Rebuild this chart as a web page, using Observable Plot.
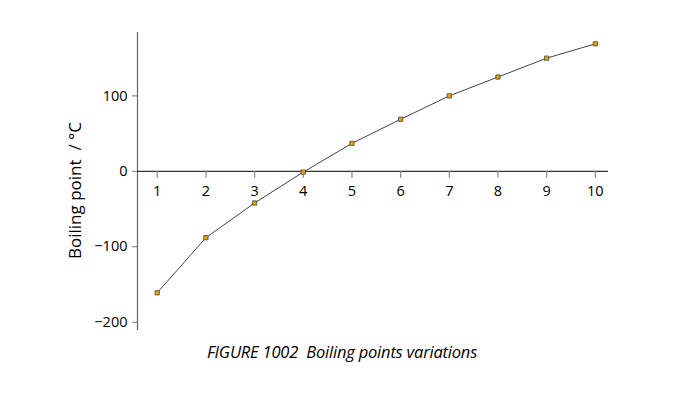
<!DOCTYPE html>
<html>
<head>
<meta charset="utf-8">
<script src="https://cdn.jsdelivr.net/npm/d3@7"></script>
<script src="https://cdn.jsdelivr.net/npm/@observablehq/plot@0.6"></script>
<style>
  html, body { margin: 0; padding: 0; background: #fff; }
  #wrap { position: relative; width: 688px; height: 395px; font-family: "Open Sans", sans-serif; }
  #caption { position: absolute; left: 0; width: 684px; top: 340px; text-align: center; font-style: italic; font-size: 16.5px; color: #000; letter-spacing: -0.2px; }
</style>
</head>
<body>
<div id="wrap"><div id="caption">FIGURE 1002&nbsp; Boiling points variations</div></div>
<script>
const carbons = [1, 2, 3, 4, 5, 6, 7, 8, 9, 10];
const boiling = [-161, -88, -42, -1, 37, 69, 100, 125, 150, 169];
const xTicks = [1, 2, 3, 4, 5, 6, 7, 8, 9, 10];
const yTicks = [-200, -100, 0, 100];
const yLabel = "Boiling point  / °C";

const data = carbons.map((c, i) => ({c, t: boiling[i]}));
const xDomain = [0.595, 10.27];
const yDomain = [-211, 184];

const chart = Plot.plot({
  width: 688,
  height: 395,
  marginLeft: 137,
  marginRight: 80,
  marginTop: 32,
  marginBottom: 65,
  style: {fontFamily: "'Open Sans', sans-serif", fontSize: "14px", color: "#000", background: "transparent"},
  x: {domain: xDomain, axis: null},
  y: {domain: yDomain, axis: null},
  marks: [
    Plot.ruleX([xDomain[0]], {stroke: "#666", strokeWidth: 1.2}),
    Plot.axisY({ticks: yTicks, tickSize: 5, tickPadding: 5, stroke: "#777", fill: "#000", tickFormat: d => d3.format("")(d).replace("-", "\u2212"), label: null, fontSize: 14.5}),
    Plot.ruleY([0], {stroke: "#333", strokeWidth: 1.2}),
    Plot.ruleX(xTicks, {x: d => d, y1: 0, y2: 0, insetBottom: -7, stroke: "#888", strokeWidth: 1.2}),
    Plot.text(xTicks, {x: d => d, y: 0, dy: 20, text: d => String(d), fontSize: 14.5, fill: "#000"}),
    Plot.line(data, {x: "c", y: "t", stroke: "#444", strokeWidth: 1}),
    Plot.dot(data, {x: "c", y: "t", symbol: "square", r: 2.4, fill: "#e6a400", stroke: "#444", strokeWidth: 0.8}),
    Plot.text([yLabel], {frameAnchor: "left", textAnchor: "middle", text: d => d, rotate: -90, dx: -62, dy: 9, fontSize: 17, fill: "#000"})
  ]
});
document.getElementById("wrap").prepend(chart);
chart.style.position = "absolute";
chart.style.left = "0";
chart.style.top = "0";
</script>
</body>
</html>
